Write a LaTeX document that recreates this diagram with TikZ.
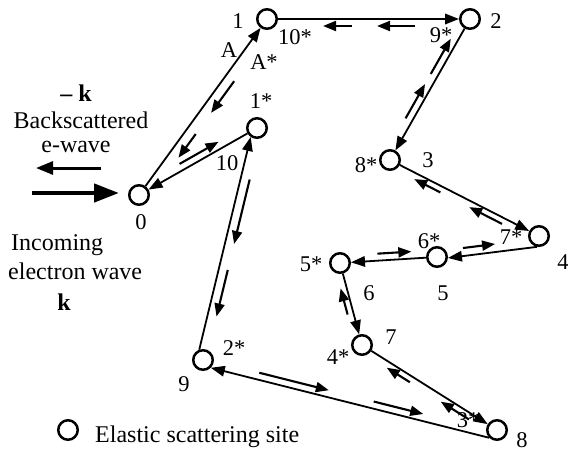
\documentclass[tikz,border=0pt]{standalone}
\usepackage{fontspec}
\setmainfont{Liberation Serif}
\usetikzlibrary{arrows.meta,calc}
\newcommand{\backarr}[5]{\draw[back] ($(#1)!#3!(#2)!#5!90:(#2)$) -- ($(#1)!#4!(#2)!#5!90:(#2)$);}
\begin{document}
\begin{tikzpicture}[x=1pt,y=-1pt,
  site/.style={circle,draw,line width=2.5pt,minimum size=19.5pt,inner sep=0pt},
  lab/.style={font=\fontsize{22.5}{24}\selectfont,inner sep=0pt},
  txt/.style={font=\fontsize{24}{26}\selectfont,inner sep=0pt},
  fwd/.style={line width=1.8pt,-{Triangle[length=14pt,width=10.5pt]}},
  back/.style={line width=2.1pt,-{Triangle[length=13pt,width=10pt]}},
]
\useasboundingbox (0,0) rectangle (568,455);
% sites
\node[site] (n0) at (139,195) {};
\node[site] (n1) at (267,19) {};
\node[site] (n2) at (470,19) {};
\node[site] (n3) at (390,160) {};
\node[site] (n4) at (539,236) {};
\node[site] (n5) at (437,257) {};
\node[site] (n6) at (340,263) {};
\node[site] (n7) at (362,345) {};
\node[site] (n8) at (497,430) {};
\node[site] (n9) at (203,360) {};
\node[site] (n10) at (257,128) {};
\node[site] (leg) at (68,430) {};
% forward path A
\draw[fwd] (n0) -- (n1);
\draw[fwd] (n1) -- (n2);
\draw[fwd] (n2) -- (n3);
\draw[fwd] (n3) -- (n4);
\draw[fwd] (n4.-100) -- (n5.-5);
\draw[fwd] (n5) -- (n6);
\draw[fwd] (n6) -- (n7);
\draw[fwd] (n7) -- (n8);
\draw[fwd] (n8.225) -- (n9.-45);
\draw[fwd] (n9.110) -- (n10.-125);
\draw[fwd] (n10) -- (n0);
% reversed path A*
\backarr{n0}{n1}{0.68}{0.50}{-10pt}
\backarr{n0}{n1}{0.38}{0.245}{-10pt}
\backarr{n10}{n0}{0.627}{0.297}{-7pt}
\backarr{n9.110}{n10.-125}{0.81}{0.507}{-9pt}
\backarr{n9.110}{n10.-125}{0.385}{0.166}{-9pt}
\backarr{n8.225}{n9.-45}{0.832}{0.582}{-7pt}
\backarr{n8.225}{n9.-45}{0.421}{0.243}{-7pt}
\backarr{n7}{n8}{0.378}{0.207}{-6pt}
\backarr{n7}{n8}{0.816}{0.607}{-6pt}
\backarr{n6}{n7}{0.61}{0.29}{-6pt}
\backarr{n5}{n6}{0.61}{0.26}{-7pt}
\backarr{n4.-100}{n5.-5}{0.82}{0.46}{-8pt}
\backarr{n3}{n4}{0.356}{0.181}{-6pt}
\backarr{n3}{n4}{0.77}{0.55}{-6pt}
\backarr{n2}{n3}{0.414}{0.164}{-7pt}
\backarr{n2}{n3}{0.729}{0.486}{-7pt}
\backarr{n1}{n2}{0.419}{0.276}{-7pt}
\backarr{n1}{n2}{0.729}{0.542}{-7pt}
% site labels
\node[lab] (l1) at (238,21) {1};
\node[lab] (lA) at (229,50) {A};
\node[lab] (lAs) at (264,62) {A*};
\node[lab] (l10s) at (295,37) {10*};
\node[lab] (l9s) at (441,35) {9*};
\node[lab] (l2) at (496,21) {2};
\node[lab] (l1s) at (261,101) {1*};
\node[lab] (l10) at (227,163) {10};
\node[lab] (l0) at (141,222) {0};
\node[lab] (l8s) at (366,165) {8*};
\node[lab] (l3) at (428,160) {3};
\node[lab] (l4) at (563,262) {4};
\node[lab] (l7s) at (511,237) {7*};
\node[lab] (l6s) at (429,241) {6*};
\node[lab] (l5) at (443,293) {5};
\node[lab] (l5s) at (311,264) {5*};
\node[lab] (l6) at (369,293) {6};
\node[lab] (l7) at (391,337) {7};
\node[lab] (l4s) at (338,357) {4*};
\node[lab] (l3s) at (468,420) {3*};
\node[lab] (l8) at (522,440) {8};
\node[lab] (l2s) at (234,348) {2*};
\node[lab] (l9) at (184,384) {9};
% left side texts and arrows
\node[txt] (mk) at (76,93) {\textbf{– k}};
\node[txt] (bs) at (81,120) {Backscattered};
\node[txt] (ew) at (76,147) {e-wave};
\coordinate (bsT) at (101,168);
\coordinate (bsH) at (36,168);
\draw[line width=3pt,-{Triangle[length=17pt,width=13pt]}] (bsT) -- (bsH);
\coordinate (inT) at (32,193);
\coordinate (inH) at (119,193);
\draw[line width=4.5pt,-{Triangle[length=25pt,width=18pt]}] (inT) -- (inH);
\node[txt,anchor=west] (inc) at (11,245) {Incoming};
\node[txt,anchor=west] (elw) at (8,271) {electron wave};
\node[txt] (kk) at (64,302) {\textbf{k}};
\node[txt,anchor=west] (legt) at (95,437) {Elastic scattering site};
\end{tikzpicture}
\end{document}
